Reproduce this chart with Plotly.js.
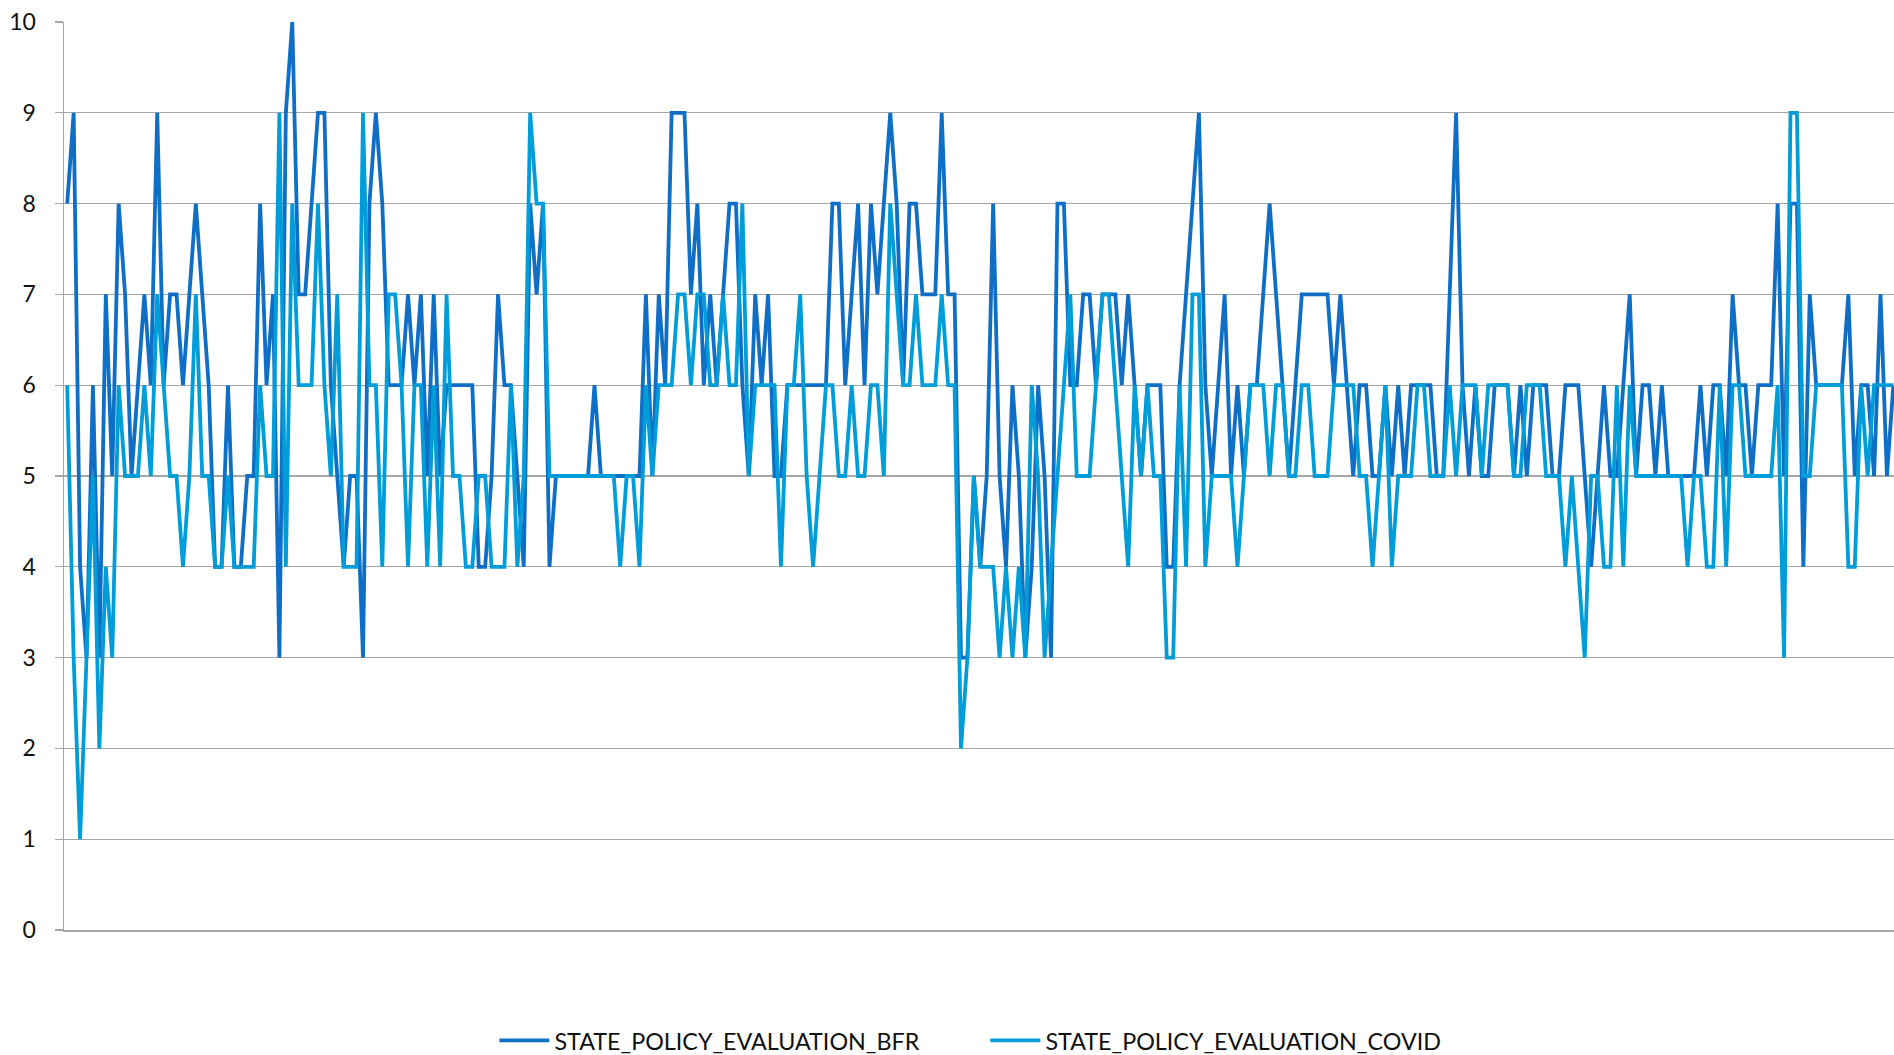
<!DOCTYPE html>
<html>
<head>
<meta charset="utf-8">
<script src="https://cdn.plot.ly/plotly-3.0.1.min.js"></script>
<style>
  html, body { margin: 0; padding: 0; background: #ffffff; }
  #chart { width: 1894px; height: 1055px; }
</style>
</head>
<body>
<div id="chart"></div>
<script>
// Series values (one value per respondent)
const STATE_POLICY_EVALUATION_BFR = [
  8,9,4,3,6,3,7,5,8,7,5,6,7,6,9,6,7,7,6,7,8,7,6,4,4,6,4,4,5,5,
  8,6,7,3,9,10,7,7,8,9,9,6,5,4,5,5,3,8,9,8,6,6,6,7,6,7,5,
  7,5,6,6,6,6,6,4,4,5,7,6,6,5,4,8,7,8,4,5,5,5,5,5,5,6,5,5,
  5,5,5,5,5,7,5,7,6,9,9,9,7,8,6,7,6,7,8,8,6,5,7,6,7,5,5,6,
  6,6,6,6,6,6,8,8,6,7,8,6,8,7,8,9,8,6,8,8,7,7,7,9,7,7,3,3,
  5,4,5,8,5,4,6,5,3,4,6,5,3,8,8,6,6,7,7,6,7,7,7,6,7,6,5,6,
  6,6,4,4,6,7,8,9,6,5,6,7,5,6,5,6,6,7,8,7,6,5,6,7,7,7,7,7,
  6,7,6,5,6,6,5,5,6,5,6,5,6,6,6,6,5,5,7,9,6,5,6,5,5,6,6,6,
  5,6,5,6,6,6,5,5,6,6,6,5,4,5,6,5,5,6,7,5,6,6,5,6,5,5,5,5,
  5,6,5,6,6,5,7,6,6,5,6,6,6,8,5,8,8,4,7,6,6,6,6,6,7,5,6,6,5,7,5,6
];
const STATE_POLICY_EVALUATION_COVID = [
  6,3,1,3,5,2,4,3,6,5,5,5,6,5,7,6,5,5,4,5,7,5,5,4,4,5,4,4,4,4,
  6,5,5,9,4,8,6,6,6,8,6,5,7,4,4,4,9,6,6,4,7,7,6,4,6,6,4,
  6,4,7,5,5,4,4,5,5,4,4,4,6,4,5,9,8,8,5,5,5,5,5,5,5,5,5,5,
  5,4,5,5,4,6,5,6,6,6,7,7,6,7,7,6,6,7,6,6,8,5,6,6,6,6,4,6,
  6,7,5,4,5,6,6,5,5,6,5,5,6,6,5,8,7,6,6,7,6,6,6,7,6,6,2,3,
  5,4,4,4,3,4,3,4,3,6,5,3,4,5,6,7,5,5,5,6,7,7,6,5,4,6,5,6,
  5,5,3,3,6,4,7,7,4,5,5,5,5,4,5,6,6,6,5,6,6,5,5,6,6,5,5,5,
  6,6,6,6,5,5,4,5,6,4,5,5,5,6,6,5,5,5,6,5,6,6,6,5,6,6,6,6,
  5,5,6,6,6,5,5,5,4,5,4,3,5,5,4,4,6,4,6,5,5,5,5,5,5,5,5,4,
  5,5,4,4,6,4,6,6,5,5,5,5,5,6,3,9,9,5,5,6,6,6,6,6,4,4,6,5,6,6,6,6
];
const seriesNames = ["STATE_POLICY_EVALUATION_BFR", "STATE_POLICY_EVALUATION_COVID"];
const yTickValues = [0,1,2,3,4,5,6,7,8,9,10];
const yTickLabels = ["0","1","2","3","4","5","6","7","8","9","10"];

// category positions (respondent number)
const respondents = STATE_POLICY_EVALUATION_BFR.map((_, i) => i + 1);

const FONT = "Lato, 'Liberation Sans', Arial, sans-serif";

const traces = [
  {
    type: "scatter", mode: "lines",
    name: seriesNames[0],
    x: respondents, y: STATE_POLICY_EVALUATION_BFR,
    line: { color: "#0F6FC6", width: 3.8, shape: "linear" },
    hoverinfo: "x+y"
  },
  {
    type: "scatter", mode: "lines",
    name: seriesNames[1],
    x: respondents, y: STATE_POLICY_EVALUATION_COVID,
    line: { color: "#009DD9", width: 3.8, shape: "linear" },
    hoverinfo: "x+y"
  }
];

const layout = {
  width: 1894, height: 1055,
  paper_bgcolor: "#ffffff", plot_bgcolor: "#ffffff",
  margin: { l: 64, r: 0, t: 22, b: 125, pad: 0, autoexpand: false },
  font: { family: FONT, size: 23, color: "#111111" },
  showlegend: true,
  legend: {
    orientation: "h",
    x: 0.5035, xanchor: "center",
    y: -0.122, yanchor: "middle",
    font: { family: FONT, size: 23.3, color: "#111111" },
    itemwidth: 50,
    entrywidth: 426,
    entrywidthmode: "pixels",
    tracegroupgap: 0,
    traceorder: "normal"
  },
  xaxis: {
    type: "linear",
    range: [0.5, 285.1],
    showticklabels: false,
    ticks: "",
    showgrid: false,
    zeroline: false,
    showline: true,
    linecolor: "#A6A6A6",
    linewidth: 1.5,
    fixedrange: true
  },
  yaxis: {
    range: [0, 10],
    tickmode: "array",
    tickvals: yTickValues,
    ticktext: yTickLabels,
    ticks: "outside",
    ticklen: 8,
    tickwidth: 1.3,
    tickcolor: "#A6A6A6",
    ticklabelstandoff: 14,
    showgrid: true,
    gridcolor: "#A6A6A6",
    gridwidth: 1.3,
    zeroline: false,
    showline: true,
    linecolor: "#A6A6A6",
    linewidth: 1.5,
    tickfont: { family: FONT, size: 23, color: "#111111" },
    fixedrange: true
  }
};

Plotly.newPlot("chart", traces, layout, { displayModeBar: false, staticPlot: true });
</script>
</body>
</html>
